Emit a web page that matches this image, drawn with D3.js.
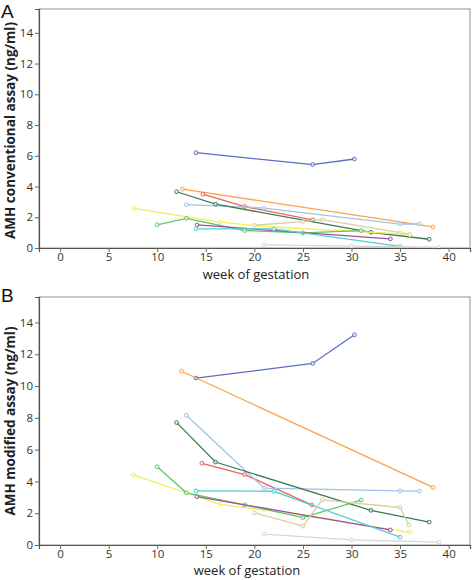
<!DOCTYPE html>
<html><head><meta charset="utf-8">
<script src="https://cdn.jsdelivr.net/npm/d3@7"></script>
<style>
html,body{margin:0;padding:0;background:#fff;}
svg{display:block;}
</style></head>
<body>
<svg id="chart" width="472" height="580"></svg>
<script>
// ---------- data ----------
const xTicks = [0, 5, 10, 15, 20, 25, 30, 35, 40];
const yTicks = [0, 2, 4, 6, 8, 10, 12, 14];
const seriesNames = ["blue","orange","red","lightblue","darkgreen","yellow","green","purple","cyan","beige","gray"];
const seriesColors = ["#5b6ec4","#fba24a","#f2605e","#9fc2e8","#3c7a52","#f2ee5c","#5cc96a","#a24aa8","#52cfd0","#d9d0a2","#d6d6d6"];

// Panel A: conventional assay  [week, value]
const blueA      = [[14, 6.2], [26, 5.43], [30.3, 5.79]];
const orangeA    = [[12.6, 3.83], [38.4, 1.37]];
const redA       = [[14.7, 3.5], [19, 2.7], [26, 1.83]];
const lightblueA = [[13, 2.82], [21, 2.6], [35, 1.56], [37, 1.56]];
const darkgreenA = [[12, 3.66], [16, 2.85], [32, 1.02], [38, 0.57]];
const yellowA    = [[7.6, 2.58], [16.45, 1.69], [21, 1.4], [36, 0.88]];
const greenA     = [[10, 1.51], [13, 1.93], [19, 1.14], [25, 0.98], [31, 1.13]];
const purpleA    = [[14.1, 1.5], [34, 0.59]];
const cyanA      = [[14, 1.25], [22, 1.24], [35, 0.1]];
const beigeA     = [[20, 1.48], [25, 1.72], [27, 1.85], [35, 1.0], [36, 0.88]];
const grayA      = [[21, 0.2], [30, 0.12], [39, 0.05]];

// Panel B: modified assay
const blueB      = [[14, 10.5], [26, 11.42], [30.3, 13.22]];
const orangeB    = [[12.5, 10.93], [38.4, 3.62]];
const redB       = [[14.6, 5.14], [19, 4.43], [25.9, 2.52]];
const lightblueB = [[13, 8.16], [21, 3.58], [35, 3.4], [37, 3.39]];
const darkgreenB = [[12, 7.7], [16, 5.22], [32, 2.18], [38, 1.44]];
const yellowB    = [[7.55, 4.41], [16.45, 2.56], [21, 2.22], [36, 0.8]];
const greenB     = [[10, 4.92], [13, 3.28], [19, 2.53], [25, 1.72], [31, 2.83]];
const purpleB    = [[14.1, 3.04], [34, 0.95]];
const cyanB      = [[14, 3.4], [22, 3.38], [35, 0.49]];
const beigeB     = [[20, 2.02], [25, 1.2], [27, 2.84], [35, 2.36], [35.9, 1.26]];
const grayB      = [[21, 0.68], [30, 0.32], [39, 0.18]];

const panelA = [blueA, orangeA, redA, lightblueA, darkgreenA, yellowA, greenA, purpleA, cyanA, beigeA, grayA];
const panelB = [blueB, orangeB, redB, lightblueB, darkgreenB, yellowB, greenB, purpleB, cyanB, beigeB, grayB];

// ---------- drawing ----------
const svg = d3.select("#chart");
const FONT = "'Open Sans', 'Noto Sans', sans-serif";

function panel(opts) {
  const {left, right, top, bottom, data, letter, letterY, yTitle, xTitleX, xTitleY} = opts;
  const x = d3.scaleLinear().domain([-2.17, 42.2]).range([left, right]);
  const y = d3.scaleLinear().domain([0, opts.yMax]).range([bottom, top]);
  const g = svg.append("g");

  // frame
  g.append("rect").attr("x", left).attr("y", top)
    .attr("width", right - left).attr("height", bottom - top)
    .attr("fill", "none").attr("stroke", "#a6a6a6").attr("stroke-width", 1.2);

  // series
  const line = d3.line().x(d => x(d[0])).y(d => y(d[1]));
  data.forEach((s, i) => {
    const c = seriesColors[i];
    g.append("path").datum(s).attr("d", line)
      .attr("fill", "none").attr("stroke", c).attr("stroke-width", 1.3);
    g.selectAll(null).data(s).enter().append("circle")
      .attr("cx", d => x(d[0])).attr("cy", d => y(d[1])).attr("r", 1.9)
      .attr("fill", "#fff").attr("fill-opacity", 0.6)
      .attr("stroke", c).attr("stroke-width", 1);
  });

  // axes
  const ax = g.append("g").attr("transform", `translate(0,${bottom})`)
    .call(d3.axisBottom(x).tickValues(xTicks).tickSize(4).tickPadding(1));
  const ay = g.append("g").attr("transform", `translate(${left},0)`)
    .call(d3.axisLeft(y).tickValues(yTicks).tickSize(4).tickPadding(2));
  [ax, ay].forEach(a => {
    a.select(".domain").attr("stroke", "#555").attr("stroke-width", 1.2);
    a.selectAll(".tick line").attr("stroke", "#666");
    a.selectAll(".tick text").attr("fill", "#333").style("font-family", FONT).style("font-size", "11.5px");
  });

  // titles
  g.append("text").attr("x", xTitleX).attr("y", xTitleY).attr("text-anchor", "middle")
    .style("font-family", FONT).style("font-size", "13px").attr("fill", "#222")
    .text("week of gestation");
  g.append("text").attr("transform", `translate(15,${(top + bottom) / 2 + opts.yTitleShift}) rotate(-90)`)
    .attr("text-anchor", "middle")
    .style("font-family", FONT).style("font-size", "13.5px").style("font-weight", "bold").attr("fill", "#222")
    .text(yTitle);
  g.append("text").attr("x", 1).attr("y", letterY)
    .style("font-family", "'Liberation Sans', Arial, sans-serif").style("font-size", "19px").attr("fill", "#111")
    .text(letter);
}

panel({left: 39, right: 470, top: 9, bottom: 248, yMax: 15.55, data: panelA, letter: "A", letterY: 18,
       yTitle: "AMH conventional assay (ng/ml)", yTitleShift: 2, xTitleX: 256, xTitleY: 279});
panel({left: 39, right: 470, top: 297, bottom: 545, yMax: 15.6, data: panelB, letter: "B", letterY: 302,
       yTitle: "AMH modified assay (ng/ml)", yTitleShift: 0, xTitleX: 247, xTitleY: 575});
</script>
</body></html>
